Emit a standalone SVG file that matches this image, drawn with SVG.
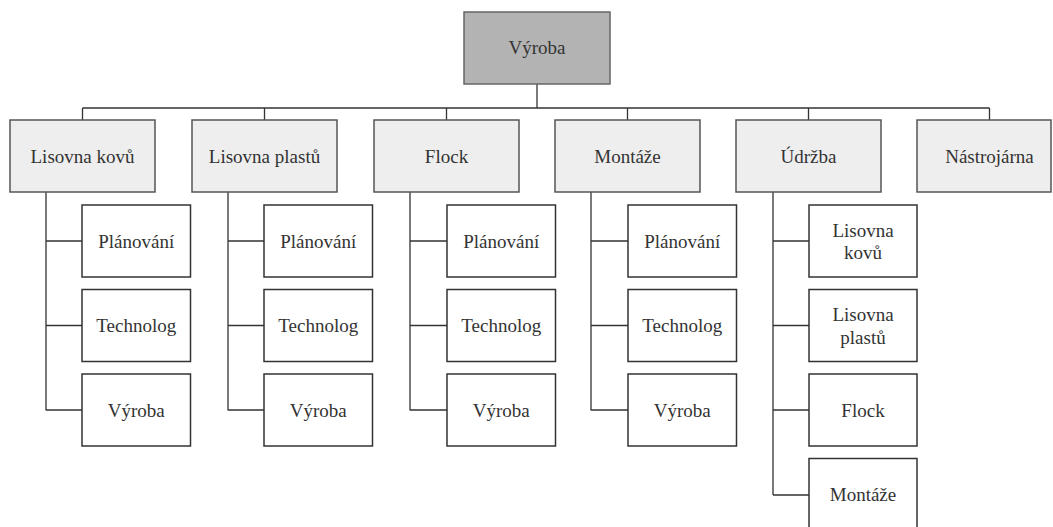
<svg xmlns="http://www.w3.org/2000/svg" width="1053" height="527" viewBox="0 0 1053 527">
<style>
.top{fill:#b3b3b3;stroke:#666;stroke-width:1.5}
.l1{fill:#eeeeee;stroke:#555;stroke-width:1.5}
.l2{fill:#ffffff;stroke:#333;stroke-width:1.5}
.t{font-family:"Times New Roman",Times,"Liberation Serif","Nimbus Roman","DejaVu Serif",serif;font-size:19px;fill:#333;text-anchor:middle}
.c{fill:none;stroke:#333;stroke-width:1.3}
</style>
<rect width="1053" height="527" fill="#fff"/>
<g id="connectors">
<path class="c" d="M537,84V108M82.5,108H989.5M82.5,108V120M264.5,108V120M446.5,108V120M627.5,108V120M808.5,108V120M989.5,108V120"/>
<path class="c" d="M46,192V410.5M46,241H82M46,325.5H82M46,410H82"/>
<path class="c" d="M228,192V410.5M228,241H264M228,325.5H264M228,410H264"/>
<path class="c" d="M410,192V410.5M410,241H447M410,325.5H447M410,410H447"/>
<path class="c" d="M591,192V410.5M591,241H628M591,325.5H628M591,410H628"/>
<path class="c" d="M773,192V495M773,241H809M773,325.5H809M773,410H809M773,495H809"/>
</g>
<g id="n-vyroba"><rect class="top" x="464" y="12" width="146" height="72"/><text class="t" x="537" y="54">Výroba</text></g>
<g id="n-lisovna-kovu"><rect class="l1" x="10" y="120" width="145" height="72"/><text class="t" x="82.5" y="162.5">Lisovna kovů</text></g>
<g id="n-lisovna-plastu"><rect class="l1" x="192" y="120" width="145" height="72"/><text class="t" x="264.5" y="162.5">Lisovna plastů</text></g>
<g id="n-flock"><rect class="l1" x="374" y="120" width="145" height="72"/><text class="t" x="446.5" y="162.5">Flock</text></g>
<g id="n-montaze"><rect class="l1" x="555" y="120" width="145" height="72"/><text class="t" x="627.5" y="162.5">Montáže</text></g>
<g id="n-udrzba"><rect class="l1" x="736" y="120" width="145" height="72"/><text class="t" x="808.5" y="162.5">Údržba</text></g>
<g id="n-nastrojarna"><rect class="l1" x="917" y="120" width="134" height="72"/><text class="t" x="989.5" y="162.5">Nástrojárna</text></g>

<g id="n-lk-planovani"><rect class="l2" x="82" y="205" width="108.5" height="72"/><text class="t" x="136.25" y="247.5">Plánování</text></g>
<g id="n-lk-technolog"><rect class="l2" x="82" y="289.5" width="108.5" height="72"/><text class="t" x="136.25" y="332">Technolog</text></g>
<g id="n-lk-vyroba"><rect class="l2" x="82" y="374" width="108.5" height="72"/><text class="t" x="136.25" y="416.5">Výroba</text></g>

<g id="n-lp-planovani"><rect class="l2" x="264" y="205" width="108.5" height="72"/><text class="t" x="318.25" y="247.5">Plánování</text></g>
<g id="n-lp-technolog"><rect class="l2" x="264" y="289.5" width="108.5" height="72"/><text class="t" x="318.25" y="332">Technolog</text></g>
<g id="n-lp-vyroba"><rect class="l2" x="264" y="374" width="108.5" height="72"/><text class="t" x="318.25" y="416.5">Výroba</text></g>

<g id="n-f-planovani"><rect class="l2" x="447" y="205" width="108.5" height="72"/><text class="t" x="501.25" y="247.5">Plánování</text></g>
<g id="n-f-technolog"><rect class="l2" x="447" y="289.5" width="108.5" height="72"/><text class="t" x="501.25" y="332">Technolog</text></g>
<g id="n-f-vyroba"><rect class="l2" x="447" y="374" width="108.5" height="72"/><text class="t" x="501.25" y="416.5">Výroba</text></g>

<g id="n-m-planovani"><rect class="l2" x="628" y="205" width="108.5" height="72"/><text class="t" x="682.25" y="247.5">Plánování</text></g>
<g id="n-m-technolog"><rect class="l2" x="628" y="289.5" width="108.5" height="72"/><text class="t" x="682.25" y="332">Technolog</text></g>
<g id="n-m-vyroba"><rect class="l2" x="628" y="374" width="108.5" height="72"/><text class="t" x="682.25" y="416.5">Výroba</text></g>

<g id="n-u-lisovna-kovu"><rect class="l2" x="809" y="205" width="108" height="72"/><text class="t" x="863" y="236.5">Lisovna</text><text class="t" x="863" y="259">kovů</text></g>
<g id="n-u-lisovna-plastu"><rect class="l2" x="809" y="289.5" width="108" height="72"/><text class="t" x="863" y="321">Lisovna</text><text class="t" x="863" y="343.5">plastů</text></g>
<g id="n-u-flock"><rect class="l2" x="809" y="374" width="108" height="72"/><text class="t" x="863" y="416.5">Flock</text></g>
<g id="n-u-montaze"><rect class="l2" x="809" y="458.5" width="108" height="72"/><text class="t" x="863" y="501">Montáže</text></g>
</svg>
